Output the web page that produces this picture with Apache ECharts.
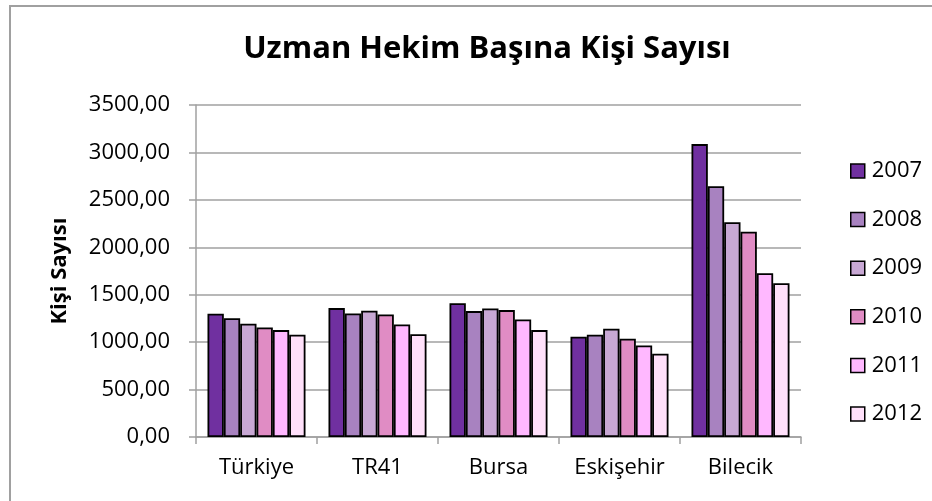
<!DOCTYPE html>
<html>
<head>
<meta charset="utf-8">
<script src="https://cdn.jsdelivr.net/npm/echarts@6/dist/echarts.min.js"></script>
<style>
  html, body { margin: 0; padding: 0; background: #fff; overflow: hidden; }
  #box { position: absolute; left: 9px; top: 5px; width: 940px; height: 520px; border-left: 2px solid #a0a0a0; border-top: 2px solid #a0a0a0; }
  #main { position: absolute; left: 0; top: 0; width: 932px; height: 501px; }
</style>
</head>
<body>
<div id="box"></div>
<div id="main"></div>
<script>
var categories = ['Türkiye', 'TR41', 'Bursa', 'Eskişehir', 'Bilecik'];
var years = ['2007', '2008', '2009', '2010', '2011', '2012'];
var v2007 = [1300, 1359, 1411, 1057, 3088];
var v2008 = [1253, 1303, 1327, 1078, 2643];
var v2009 = [1194, 1331, 1355, 1141, 2265];
var v2010 = [1155, 1292, 1338, 1036, 2164];
var v2011 = [1127, 1187, 1239, 965, 1726];
var v2012 = [1078, 1084, 1127, 877, 1621];
var colors = ['#7030a0', '#a882c0', '#c8a8d4', '#e08cc4', '#ffb8ff', '#ffe0fa'];

var values = [v2007, v2008, v2009, v2010, v2011, v2012];
var font = 'Open Sans, Noto Sans, sans-serif';

var series = [];
for (var i = 0; i < years.length; i++) {
  series.push({
    name: years[i],
    type: 'bar',
    data: values[i],
    barGap: '0%',
    barCategoryGap: '19%',
    itemStyle: { color: colors[i], borderColor: '#000', borderWidth: 1.8 }
  });
}

var myChart = echarts.init(document.getElementById('main'));
myChart.setOption({
  animation: false,
  title: {
    text: 'Uzman Hekim Başına Kişi Sayısı',
    left: 482,
    textAlign: 'center',
    top: 29,
    textStyle: { fontFamily: font, fontSize: 31, fontWeight: 'bold', color: '#000' }
  },
  legend: {
    orient: 'vertical',
    left: 845,
    top: 155,
    itemWidth: 14,
    itemHeight: 14,
    itemGap: 26.6,
    icon: 'rect',
    itemStyle: { borderColor: '#000', borderWidth: 1.5 },
    textStyle: { fontFamily: font, fontSize: 22, color: '#000', padding: [0, 0, 0, 2] },
    data: years
  },
  grid: { left: 196, right: 131, top: 105, bottom: 64 },
  xAxis: {
    type: 'category',
    data: categories,
    axisLine: { lineStyle: { color: '#a0a0a0', width: 1.5 } },
    axisTick: { show: true, length: 7, lineStyle: { color: '#a0a0a0', width: 1.5 } },
    axisLabel: { fontFamily: font, fontSize: 22, color: '#000', margin: 20 }
  },
  yAxis: {
    type: 'value',
    min: 0,
    max: 3500,
    interval: 500,
    name: 'Kişi Sayısı',
    nameLocation: 'middle',
    nameGap: 125,
    nameTextStyle: { fontFamily: font, fontSize: 22, fontWeight: 'bold', color: '#000' },
    axisLine: { show: true, lineStyle: { color: '#a0a0a0', width: 1.5 } },
    axisTick: { show: true, length: 7, lineStyle: { color: '#a0a0a0', width: 1.5 } },
    splitLine: { lineStyle: { color: '#a0a0a0', width: 1.5 } },
    axisLabel: {
      fontFamily: font, fontSize: 22, color: '#000', margin: 26,
      formatter: function (v) { return v.toFixed(2).replace('.', ','); }
    }
  },
  series: series
});
</script>
</body>
</html>
